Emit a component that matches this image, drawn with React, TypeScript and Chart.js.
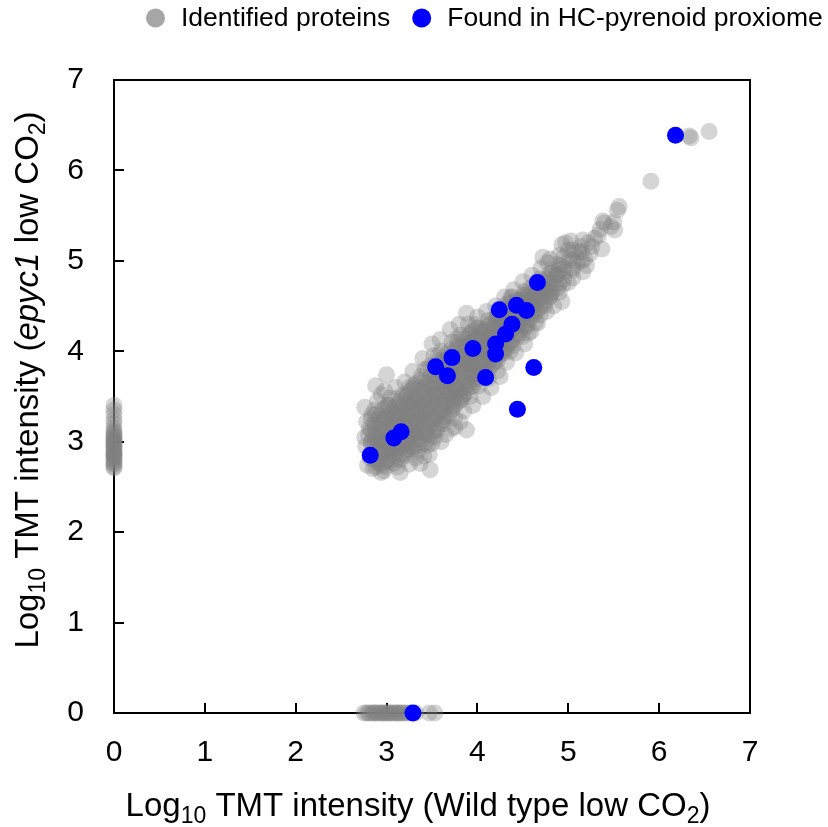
import React, { useEffect, useRef } from "react";
import { Chart, registerables } from "chart.js";

Chart.register(...registerables);

// ---------------- data ----------------
const xTicks = [0, 1, 2, 3, 4, 5, 6, 7];
const yTicks = [0, 1, 2, 3, 4, 5, 6, 7];
const seriesLabels = ["Identified proteins", "Found in HC-pyrenoid proxiome"];

// Found in HC-pyrenoid proxiome
const blueX = [2.82, 3.08, 3.16, 3.54, 3.67, 3.72, 3.95, 4.09, 4.2, 4.2, 4.24, 4.31, 4.38, 4.43, 4.54, 4.44, 4.62, 4.66, 6.18, 3.29];
const blueY = [2.85, 3.04, 3.11, 3.83, 3.73, 3.93, 4.03, 3.71, 3.97, 4.08, 4.46, 4.19, 4.3, 4.51, 4.45, 3.36, 3.82, 4.76, 6.39, 0];

// Identified proteins only detected in epyc1 (x = 0): y values
const grayOnlyMutantY = [3.4, 3.35, 3.3, 3.24, 3.2, 3.15, 3.12, 3.1, 3.08, 3.06, 3.05, 3.03, 3.02, 3.0, 2.99, 2.98, 2.96, 2.95, 2.93, 2.92, 2.9, 2.88, 2.87, 2.86, 2.85, 2.83, 2.82, 2.8, 2.78, 2.76, 2.75, 2.72, 2.71];
// Identified proteins only detected in wild type (y = 0): x values
const grayOnlyWildX = [2.75, 2.78, 2.8, 2.82, 2.85, 2.87, 2.88, 2.9, 2.93, 2.95, 2.96, 2.98, 3.0, 3.02, 3.04, 3.05, 3.08, 3.1, 3.12, 3.13, 3.16, 3.18, 3.2, 3.23, 3.26, 3.32, 3.47, 3.53];

// Identified proteins, outer part of the cloud [x, y]
const grayHalo: [number, number][] = [
  [2.76, 3.38], [2.78, 3.22], [2.8, 3.08], [2.77, 2.95], [2.82, 2.82], [2.79, 2.74], [2.84, 3.3], [2.83, 2.98], [2.81, 3.15], [2.85, 2.7], [2.76, 3.05], [2.84, 2.88],
  [2.88, 3.62], [2.9, 3.45], [2.92, 3.25], [2.89, 3.1], [2.93, 2.95], [2.9, 2.8], [2.94, 2.66], [2.87, 3.35], [2.95, 3.18], [2.91, 3.02], [2.96, 2.88], [2.88, 2.72], [2.94, 3.52],
  [3.0, 3.74], [2.98, 3.56], [3.02, 3.4], [3.0, 3.28], [3.04, 3.12], [2.99, 3.0], [3.03, 2.9], [3.0, 2.78], [2.97, 2.68], [3.05, 3.2], [3.01, 3.05], [3.06, 2.95], [3.04, 3.48],
  [3.1, 3.6], [3.12, 3.42], [3.08, 3.3], [3.14, 3.18], [3.1, 3.06], [3.13, 2.96], [3.09, 2.84], [3.12, 2.72], [3.15, 2.66], [3.11, 3.24], [3.16, 3.1], [3.07, 2.92], [3.15, 3.36],
  [3.2, 3.66], [3.22, 3.52], [3.18, 3.4], [3.23, 3.3], [3.2, 3.18], [3.24, 3.06], [3.19, 2.95], [3.22, 2.85], [3.25, 2.75], [3.21, 3.45], [3.26, 3.22], [3.18, 3.1], [3.24, 2.98],
  [3.29, 3.78], [3.3, 3.62], [3.32, 3.5], [3.28, 3.38], [3.33, 3.26], [3.3, 3.15], [3.34, 3.03], [3.29, 2.92], [3.32, 2.82], [3.35, 3.42], [3.31, 3.1], [3.27, 3.56], [3.35, 2.9],
  [3.4, 3.92], [3.42, 3.8], [3.38, 3.68], [3.43, 3.55], [3.4, 3.44], [3.44, 3.33], [3.39, 3.2], [3.42, 3.08], [3.45, 2.96], [3.41, 2.84], [3.37, 2.76], [3.44, 3.62], [3.4, 3.28], [3.46, 3.15],
  [3.5, 4.08], [3.52, 3.95], [3.48, 3.84], [3.53, 3.72], [3.5, 3.6], [3.54, 3.48], [3.49, 3.36], [3.52, 3.24], [3.55, 3.12], [3.5, 2.98], [3.47, 2.86], [3.48, 2.69], [3.56, 3.8], [3.51, 3.42], [3.53, 3.05],
  [3.59, 4.13], [3.6, 4.0], [3.62, 3.9], [3.58, 3.78], [3.63, 3.66], [3.6, 3.55], [3.64, 3.44], [3.59, 3.32], [3.62, 3.2], [3.65, 3.08], [3.6, 3.0], [3.66, 3.6], [3.57, 3.95], [3.63, 3.28],
  [3.7, 4.24], [3.72, 4.1], [3.68, 3.98], [3.73, 3.86], [3.7, 3.74], [3.74, 3.62], [3.69, 3.5], [3.72, 3.38], [3.75, 3.26], [3.71, 3.14], [3.75, 3.16], [3.67, 3.9], [3.76, 3.55], [3.73, 3.44],
  [3.8, 4.3], [3.82, 4.18], [3.78, 4.06], [3.83, 3.94], [3.8, 3.82], [3.84, 3.7], [3.79, 3.58], [3.82, 3.46], [3.85, 3.34], [3.81, 3.22], [3.86, 3.86], [3.77, 4.14], [3.84, 3.52],
  [3.88, 4.42], [3.9, 4.3], [3.92, 4.18], [3.88, 4.06], [3.93, 3.96], [3.9, 3.85], [3.94, 3.74], [3.89, 3.62], [3.92, 3.5], [3.95, 3.4], [3.88, 3.13], [3.96, 3.68], [3.91, 3.9], [3.94, 4.1],
  [4.0, 4.38], [4.02, 4.26], [3.98, 4.14], [4.03, 4.02], [4.0, 3.92], [4.04, 3.82], [3.99, 3.72], [4.02, 3.62], [4.06, 3.5], [4.05, 4.2], [4.01, 3.98], [4.06, 3.78], [3.98, 4.3],
  [4.1, 4.44], [4.12, 4.34], [4.08, 4.22], [4.13, 4.1], [4.1, 4.0], [4.14, 3.9], [4.09, 3.8], [4.12, 3.7], [4.15, 3.6], [4.11, 4.16], [4.16, 3.96], [4.07, 4.04],
  [4.2, 4.5], [4.22, 4.4], [4.18, 4.28], [4.23, 4.18], [4.2, 4.08], [4.24, 3.98], [4.19, 3.88], [4.22, 3.78], [4.25, 3.72], [4.21, 4.34], [4.26, 4.12], [4.17, 4.0],
  [4.3, 4.6], [4.32, 4.48], [4.28, 4.38], [4.33, 4.28], [4.3, 4.18], [4.34, 4.08], [4.29, 3.98], [4.32, 3.88], [4.35, 4.4], [4.31, 4.22], [4.36, 4.0],
  [4.4, 4.68], [4.42, 4.56], [4.38, 4.46], [4.43, 4.36], [4.4, 4.26], [4.44, 4.16], [4.39, 4.06], [4.42, 3.98], [4.45, 4.5], [4.46, 4.3], [4.37, 4.6],
  [4.5, 4.77], [4.52, 4.66], [4.48, 4.56], [4.53, 4.46], [4.5, 4.36], [4.54, 4.26], [4.49, 4.16], [4.52, 4.08], [4.55, 4.6], [4.47, 4.42], [4.56, 4.2],
  [4.6, 4.84], [4.62, 4.72], [4.58, 4.62], [4.63, 4.52], [4.6, 4.42], [4.64, 4.32], [4.59, 4.22], [4.66, 4.31], [4.65, 4.66], [4.57, 4.5],
  [4.72, 5.04], [4.7, 4.92], [4.68, 4.8], [4.73, 4.7], [4.7, 4.6], [4.74, 4.5], [4.69, 4.4], [4.77, 4.98], [4.75, 4.62], [4.76, 4.44],
  [4.8, 5.02], [4.82, 4.9], [4.78, 4.8], [4.83, 4.7], [4.8, 4.6], [4.84, 4.5], [4.86, 4.84], [4.79, 4.66],
  [4.93, 5.18], [4.9, 5.06], [4.92, 4.95], [4.88, 4.85], [4.94, 4.74], [4.9, 4.65], [4.93, 4.55], [4.97, 5.2], [4.96, 4.88],
  [5.0, 5.12], [5.02, 5.02], [5.05, 4.81], [5.07, 5.09], [5.04, 4.92], [5.0, 4.76], [5.03, 5.22],
  [5.16, 5.23], [5.16, 4.88], [5.12, 5.1], [5.1, 4.98], [5.14, 5.16], [5.18, 5.02],
  [5.22, 5.2], [5.24, 5.08], [5.2, 4.95], [5.29, 5.25], [5.26, 5.16],
  [5.37, 5.13], [5.33, 5.28], [5.38, 5.44], [5.4, 5.42], [5.35, 5.35],
  [5.5, 5.43], [5.51, 5.34], [5.54, 5.56], [5.56, 5.6], [5.47, 5.38],
  [5.91, 5.88], [6.33, 6.38], [6.35, 6.36], [6.55, 6.43],
];

// Identified proteins, dense core of the cloud: [x, y values]
const grayCore: [number, number[]][] = [
  [2.83, [2.85, 3.0, 3.12, 3.25]],
  [2.88, [2.78, 2.92, 3.05, 3.18, 3.3]],
  [2.95, [2.74, 2.85, 2.98, 3.1, 3.22, 3.35]],
  [3.02, [2.8, 2.93, 3.06, 3.16, 3.3, 3.4]],
  [3.08, [2.76, 2.88, 3.0, 3.12, 3.25, 3.38]],
  [3.15, [2.8, 2.92, 3.04, 3.16, 3.28, 3.45]],
  [3.22, [2.9, 3.02, 3.13, 3.25, 3.36, 3.5]],
  [3.28, [2.94, 3.06, 3.2, 3.32, 3.44, 3.58]],
  [3.35, [2.96, 3.1, 3.24, 3.36, 3.48, 3.6]],
  [3.42, [2.98, 3.12, 3.26, 3.38, 3.5, 3.66]],
  [3.48, [3.04, 3.18, 3.32, 3.46, 3.58, 3.72]],
  [3.55, [3.14, 3.28, 3.42, 3.54, 3.66, 3.78]],
  [3.62, [3.24, 3.36, 3.5, 3.62, 3.74, 3.86]],
  [3.68, [3.3, 3.42, 3.54, 3.66, 3.78, 3.92]],
  [3.75, [3.4, 3.5, 3.62, 3.74, 3.86, 4.0]],
  [3.82, [3.48, 3.58, 3.7, 3.82, 3.94, 4.06]],
  [3.88, [3.55, 3.66, 3.78, 3.9, 4.02, 4.14]],
  [3.95, [3.62, 3.74, 3.86, 3.98, 4.1, 4.22]],
  [4.02, [3.7, 3.8, 3.92, 4.04, 4.16]],
  [4.08, [3.76, 3.88, 4.0, 4.12, 4.24]],
  [4.15, [3.84, 3.95, 4.06, 4.18, 4.3]],
  [4.22, [3.9, 4.02, 4.14, 4.26, 4.38]],
  [4.28, [4.0, 4.1, 4.22, 4.34, 4.46]],
  [4.35, [4.08, 4.2, 4.3, 4.42, 4.54]],
  [4.42, [4.18, 4.28, 4.4, 4.5]],
  [4.48, [4.25, 4.36, 4.48, 4.58]],
  [4.55, [4.3, 4.42, 4.54, 4.64]],
  [4.62, [4.4, 4.5, 4.6]],
  [4.68, [4.48, 4.58, 4.7]],
  [4.75, [4.55, 4.68, 4.8]],
  [4.82, [4.65, 4.78]],
  [4.9, [4.75, 4.9]],
];

// Identified proteins, second dense layer of the core: [x, y values]
const grayCoreInner: [number, number[]][] = [
  [2.86, [2.82, 2.96, 3.08, 3.2]],
  [2.92, [2.76, 2.9, 3.02, 3.14, 3.28]],
  [2.99, [2.72, 2.88, 3.0, 3.14, 3.26, 3.38]],
  [3.05, [2.78, 2.9, 3.03, 3.2, 3.34]],
  [3.12, [2.82, 2.95, 3.08, 3.2, 3.32, 3.48]],
  [3.18, [2.86, 2.98, 3.1, 3.22, 3.34, 3.52]],
  [3.25, [2.92, 3.04, 3.16, 3.3, 3.42, 3.6]],
  [3.32, [2.98, 3.1, 3.22, 3.34, 3.46, 3.64]],
  [3.38, [3.02, 3.16, 3.3, 3.42, 3.56, 3.72]],
  [3.45, [3.08, 3.22, 3.36, 3.5, 3.64, 3.8]],
  [3.52, [3.12, 3.26, 3.4, 3.52, 3.66, 3.84]],
  [3.58, [3.2, 3.34, 3.48, 3.6, 3.72, 3.9]],
  [3.65, [3.28, 3.4, 3.54, 3.68, 3.82, 3.96]],
  [3.72, [3.36, 3.48, 3.6, 3.72, 3.84, 4.02]],
  [3.78, [3.44, 3.56, 3.68, 3.8, 3.92, 4.1]],
  [3.85, [3.52, 3.64, 3.76, 3.88, 4.0, 4.14]],
  [3.92, [3.6, 3.72, 3.84, 3.96, 4.08, 4.2]],
  [3.98, [3.66, 3.78, 3.9, 4.02, 4.14, 4.26]],
  [4.05, [3.74, 3.86, 3.98, 4.1, 4.22]],
  [4.12, [3.8, 3.92, 4.04, 4.16, 4.28]],
  [4.18, [3.88, 4.0, 4.12, 4.24, 4.36]],
  [4.25, [3.96, 4.08, 4.2, 4.32, 4.44]],
  [4.32, [4.04, 4.16, 4.28, 4.4, 4.52]],
  [4.38, [4.12, 4.24, 4.36, 4.48, 4.6]],
  [4.45, [4.2, 4.32, 4.44, 4.56]],
  [4.52, [4.28, 4.4, 4.52, 4.62]],
  [4.58, [4.36, 4.48, 4.58, 4.7]],
  [4.65, [4.44, 4.56, 4.68]],
  [4.72, [4.52, 4.64, 4.76]],
  [4.8, [4.62, 4.74, 4.86]],
  [4.88, [4.7, 4.84, 4.96]],
  [4.95, [4.8, 4.92, 5.04]],
  [5.05, [4.9, 5.0, 5.12]],
  [5.15, [5.0, 5.1]],
];

// ---------------- styles ----------------
const FONT = '"Liberation Sans", Arial, Helvetica, sans-serif';
const GRAY_POINT = "rgba(128,128,128,0.33)";
const GRAY_LEGEND = "#a6a6a6";
const BLUE = "#0000ff";

type Seg = { t: string; sub?: boolean; it?: boolean };

const xTitle: Seg[] = [
  { t: "Log" }, { t: "10", sub: true }, { t: " TMT intensity (Wild type low CO" }, { t: "2", sub: true }, { t: ")" },
];
const yTitle: Seg[] = [
  { t: "Log" }, { t: "10", sub: true }, { t: " TMT intensity (" }, { t: "epyc1", it: true }, { t: " low CO" }, { t: "2", sub: true }, { t: ")" },
];

function drawRich(ctx: CanvasRenderingContext2D, segs: Seg[], size: number, subSize: number, subDy: number) {
  const fontOf = (s: Seg) => `${s.it ? "italic " : ""}${s.sub ? subSize : size}px ${FONT}`;
  let w = 0;
  for (const s of segs) {
    ctx.font = fontOf(s);
    w += ctx.measureText(s.t).width;
  }
  let x = -w / 2;
  ctx.textAlign = "left";
  ctx.textBaseline = "alphabetic";
  for (const s of segs) {
    ctx.font = fontOf(s);
    ctx.fillText(s.t, x, s.sub ? subDy : 0);
    x += ctx.measureText(s.t).width;
  }
}

const framePlugin = {
  id: "frameTicks",
  beforeDatasetsDraw(chart: any) {
    const { ctx, chartArea } = chart;
    const xs = chart.scales.x;
    const ys = chart.scales.y;
    ctx.save();
    ctx.strokeStyle = "#000";
    ctx.lineWidth = 2;
    ctx.strokeRect(chartArea.left, chartArea.top, chartArea.right - chartArea.left, chartArea.bottom - chartArea.top);
    ctx.beginPath();
    const tl = 10;
    for (const v of xTicks.slice(1, -1)) {
      const px = Math.round(xs.getPixelForValue(v));
      ctx.moveTo(px, chartArea.bottom);
      ctx.lineTo(px, chartArea.bottom - tl);
    }
    for (const v of yTicks.slice(1, -1)) {
      const py = Math.round(ys.getPixelForValue(v));
      ctx.moveTo(chartArea.left, py);
      ctx.lineTo(chartArea.left + tl, py);
    }
    ctx.stroke();
    ctx.restore();
  },
  afterDraw(chart: any) {
    const { ctx } = chart;
    ctx.save();
    ctx.fillStyle = "#000";
    // x title
    ctx.save();
    ctx.translate(418, 816);
    drawRich(ctx, xTitle, 33, 23, 7);
    ctx.restore();
    // y title
    ctx.save();
    ctx.translate(38, 380);
    ctx.rotate(-Math.PI / 2);
    drawRich(ctx, yTitle, 33, 23, 7);
    ctx.restore();
    // legend
    const ds = chart.data.datasets;
    ctx.font = `26.5px ${FONT}`;
    ctx.textBaseline = "middle";
    ctx.textAlign = "left";
    let x = 146;
    const y = 18;
    ds.forEach((d: any, i: number) => {
      ctx.fillStyle = i === 0 ? GRAY_LEGEND : d.backgroundColor;
      ctx.beginPath();
      ctx.arc(x + 9.5, y, 9.5, 0, Math.PI * 2);
      ctx.fill();
      ctx.fillStyle = "#000";
      ctx.fillText(d.label, x + 35, y + 1);
      x = x + 35 + ctx.measureText(d.label).width + 22;
    });
    ctx.restore();
  },
};

export default function App() {
  const ref = useRef<HTMLCanvasElement | null>(null);

  useEffect(() => {
    if (!ref.current) return;
    const grayPoints: { x: number; y: number }[] = [];
    grayOnlyMutantY.forEach((y) => grayPoints.push({ x: 0, y }));
    grayOnlyWildX.forEach((x) => grayPoints.push({ x, y: 0 }));
    grayHalo.forEach(([x, y]) => grayPoints.push({ x, y }));
    grayCore.forEach(([x, ys]) => ys.forEach((y) => grayPoints.push({ x, y })));
    grayCoreInner.forEach(([x, ys]) => ys.forEach((y) => grayPoints.push({ x, y })));
    const bluePoints = blueX.map((x, i) => ({ x, y: blueY[i] }));

    const chart = new Chart(ref.current, {
      type: "scatter",
      data: {
        datasets: [
          {
            label: seriesLabels[0],
            data: grayPoints,
            backgroundColor: GRAY_POINT,
            pointRadius: 8.5,
            pointBorderWidth: 0,
            borderWidth: 0,
            order: 1,
            clip: false as any,
          },
          {
            label: seriesLabels[1],
            data: bluePoints,
            backgroundColor: BLUE,
            pointRadius: 8.5,
            pointBorderWidth: 0,
            borderWidth: 0,
            order: 0,
            clip: false as any,
          },
        ],
      },
      options: {
        animation: false,
        responsive: true,
        maintainAspectRatio: false,
        events: [],
        layout: { padding: { top: 80, right: 78, left: 0, bottom: 0 } },
        plugins: { legend: { display: false }, tooltip: { enabled: false } },
        scales: {
          x: {
            type: "linear",
            min: 0,
            max: 7,
            afterBuildTicks: (s: any) => {
              s.ticks = xTicks.map((v) => ({ value: v }));
            },
            afterFit: (s: any) => {
              s.height = 114;
            },
            grid: { display: false, drawTicks: false },
            border: { display: false },
            ticks: { color: "#000", font: { family: FONT, size: 30 }, padding: 22, maxRotation: 0 },
          },
          y: {
            type: "linear",
            min: 0,
            max: 7,
            afterBuildTicks: (s: any) => {
              s.ticks = yTicks.map((v) => ({ value: v }));
            },
            afterFit: (s: any) => {
              s.width = 114;
            },
            grid: { display: false, drawTicks: false },
            border: { display: false },
            ticks: { color: "#000", font: { family: FONT, size: 30 }, padding: 30 },
          },
        },
      },
      plugins: [framePlugin],
    });
    return () => chart.destroy();
  }, []);

  return (
    <div style={{ position: "fixed", left: 0, top: 0, width: 828, height: 827, background: "#fff" }}>
      <canvas ref={ref} />
    </div>
  );
}
